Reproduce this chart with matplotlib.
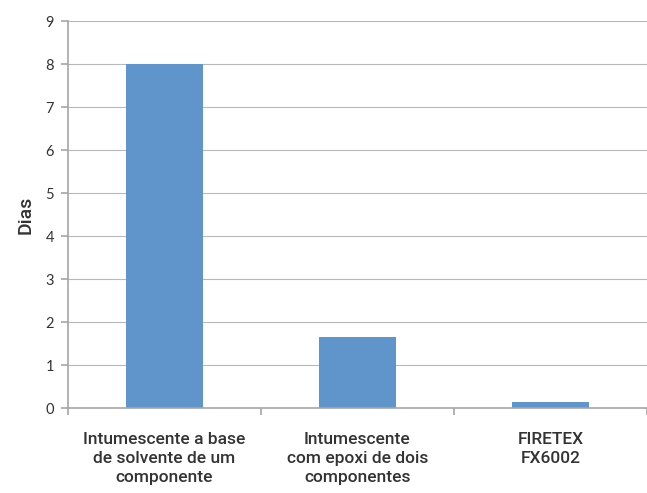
import matplotlib.pyplot as plt
import numpy as np

# Data
categories = ["Intumescente a base\nde solvente de um\ncomponente",
              "Intumescente\ncom epoxi de dois\ncomponentes",
              "FIRETEX\nFX6002"]
dias = [8.0, 1.65, 0.14]
y_ticks = list(range(0, 10))

grid_color = "#a6a6a6"
bar_color = "#5f95cb"
text_color = "#333333"
label_font = ["Roboto", "DejaVu Sans"]

fig = plt.figure(figsize=(6.47, 4.93), dpi=100)
ax = fig.add_axes([0.1051, 0.1724, 0.8949, 0.785])

x = np.arange(len(categories))
ax.bar(x, dias, width=0.4, color=bar_color, zorder=3)

ax.set_xlim(-0.5, len(categories) - 0.5)
ax.set_ylim(0, 9)

# horizontal gridlines
ax.set_yticks(y_ticks)
ax.yaxis.grid(True, color="#b8b8b8", lw=0.8)
ax.set_axisbelow(True)

for s in ["top", "right"]:
    ax.spines[s].set_visible(False)
for s in ["left", "bottom"]:
    ax.spines[s].set_color(grid_color)
    ax.spines[s].set_linewidth(1.2)
ax.spines["bottom"].set_zorder(4)

ax.tick_params(axis="y", direction="out", length=5, color=grid_color, width=1.2,
               labelsize=10.5, labelcolor=text_color, pad=5)
ax.set_yticklabels([str(v) for v in y_ticks], family=["Lato", "DejaVu Sans"])

# category labels at centres, tick marks at category boundaries
ax.set_xticks(x)
ax.set_xticklabels(categories, family=label_font, fontweight="medium",
                   fontsize=12.5, color=text_color, linespacing=1.35)
ax.tick_params(axis="x", length=0, pad=17)
ax.set_xticks(np.arange(len(categories) + 1) - 0.5, minor=True)
ax.tick_params(axis="x", which="minor", direction="out", length=5,
               color=grid_color, width=1.2)

ax.set_ylabel("Dias", family=label_font, fontweight="medium",
              fontsize=14, color=text_color, labelpad=8)

plt.savefig("out.png", dpi=100)
